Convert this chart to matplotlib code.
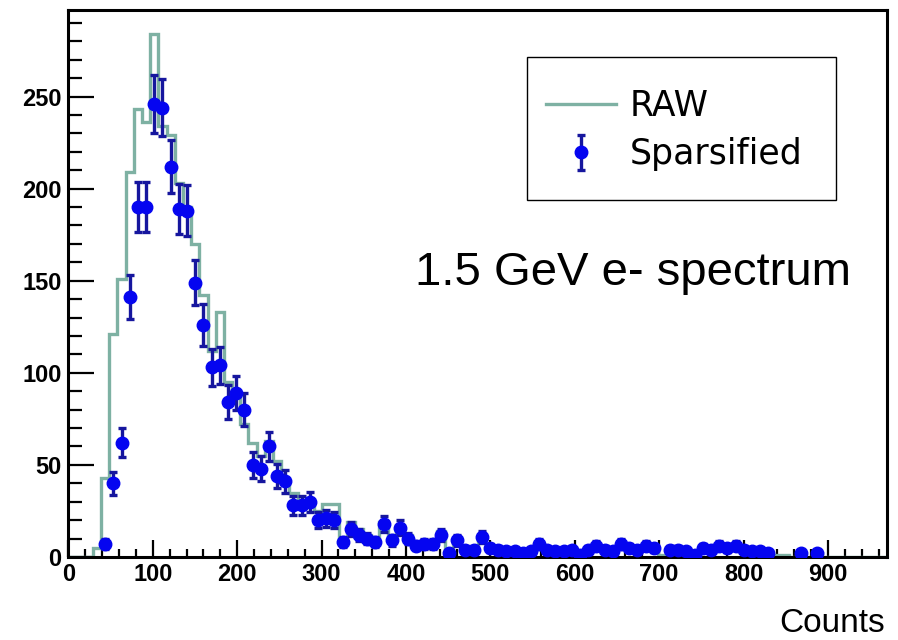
import numpy as np
import matplotlib.pyplot as plt
from matplotlib.lines import Line2D
from matplotlib.patches import Rectangle
from matplotlib.ticker import MultipleLocator

# histogram binning: 100 bins from 0 to 970
bin_width = 9.7
n_bins = 100

# RAW spectrum (counts per bin)
raw_counts = [
    0, 0, 0, 5, 43, 121, 151, 209, 243, 236,
    284, 234, 229, 203, 190, 170, 142, 112, 133, 95,
    87, 72, 62, 55, 63, 52, 42, 35, 31, 29,
    25, 29, 29, 10, 19, 15, 12, 9, 19, 11,
    17, 12, 8, 8, 8, 14, 3, 10, 5, 5,
    11, 6, 5, 4, 3, 3, 4, 7, 5, 4,
    4, 5, 2, 4, 6, 5, 4, 7, 6, 5,
    6, 5, 1, 4, 5, 4, 2, 5, 5, 6,
    5, 6, 5, 4, 3, 3, 1, 1, 0, 2,
    0, 2, 0, 0, 0, 0, 0, 0, 0, 0,
]

# Sparsified spectrum (counts per bin, 0 = empty bin)
sparse_counts = [
    0, 0, 0, 0, 7, 40, 62, 141, 190, 190,
    246, 244, 212, 189, 188, 149, 126, 103, 104, 84,
    89, 80, 50, 48, 60, 44, 41, 28, 28, 30,
    20, 21, 20, 8, 15, 12, 10, 8, 18, 9,
    16, 10, 6, 7, 7, 12, 2, 9, 4, 4,
    11, 5, 4, 3, 3, 2, 3, 7, 4, 3,
    3, 4, 1, 4, 6, 4, 3, 7, 5, 4,
    6, 5, 0, 4, 4, 3, 1, 5, 4, 6,
    5, 6, 4, 3, 3, 2, 0, 0, 0, 2,
    0, 2, 0, 0, 0, 0, 0, 0, 0, 0,
]

raw_color = '#7eb1a3'
marker_color = '#0505f0'
err_color = '#16169e'

edges = np.arange(n_bins + 1) * bin_width
centers = edges[:-1] + bin_width / 2
raw = np.array(raw_counts, dtype=float)
sparse = np.array(sparse_counts, dtype=float)
filled = sparse > 0

fig = plt.figure(figsize=(8.98, 6.4), dpi=100)
ax = fig.add_axes([0.0761, 0.1297, 0.9117, 0.8547])

# RAW as step histogram, Sparsified as points with sqrt(N) errors
ax.stairs(raw, edges, color=raw_color, lw=2.4, zorder=2)
sp = ax.errorbar(centers[filled], sparse[filled], yerr=np.sqrt(sparse[filled]),
                 fmt='o', ms=9, mfc=marker_color, mec=marker_color,
                 ecolor=err_color, elinewidth=2.4, capsize=3, capthick=2.4,
                 zorder=3)

ax.set_xlim(0, 970)
ax.set_ylim(0, 297)

# ROOT-like axes: ticks inside, bold labels
ax.xaxis.set_major_locator(MultipleLocator(100))
ax.xaxis.set_minor_locator(MultipleLocator(20))
ax.yaxis.set_major_locator(MultipleLocator(50))
ax.yaxis.set_minor_locator(MultipleLocator(10))
ax.tick_params(axis='both', which='both', direction='in', top=False, right=False)
ax.tick_params(axis='y', which='major', length=19, width=1.6, pad=5)
ax.tick_params(axis='y', which='minor', length=10, width=1.6)
ax.tick_params(axis='x', which='major', length=12, width=1.6, pad=4)
ax.tick_params(axis='x', which='minor', length=6, width=1.6)
for lab in ax.get_xticklabels() + ax.get_yticklabels():
    lab.set_fontfamily('Liberation Sans')
    lab.set_fontweight('bold')
    lab.set_fontsize(17)
for s in ax.spines.values():
    s.set_linewidth(2.2)

# legend box drawn separately so its padding can be set freely
ax.add_patch(Rectangle((0.560, 0.6527), 0.3774, 0.2614, transform=ax.transAxes,
                       facecolor='white', edgecolor='black', lw=1.0, zorder=4))
handles = [Line2D([], [], color=raw_color, lw=2.4), sp]
leg = ax.legend(handles, ['RAW', 'Sparsified'], loc='upper left',
                bbox_to_anchor=(0.5688, 0.8775),
                prop={'family': 'DejaVu Sans', 'size': 25},
                frameon=False, borderaxespad=0, borderpad=0.35,
                handlelength=2.0, handletextpad=0.4, labelspacing=0.41)
leg.set_zorder(5)

fig.text(0.462, 1 - 285 / 640, '1.5 GeV e- spectrum', fontsize=34,
         family='Liberation Sans', va='baseline')
fig.text(885 / 898, 1 - 632 / 640, 'Counts', fontsize=24,
         family='Liberation Sans', ha='right', va='baseline')

fig.savefig('out.png', dpi=100)
